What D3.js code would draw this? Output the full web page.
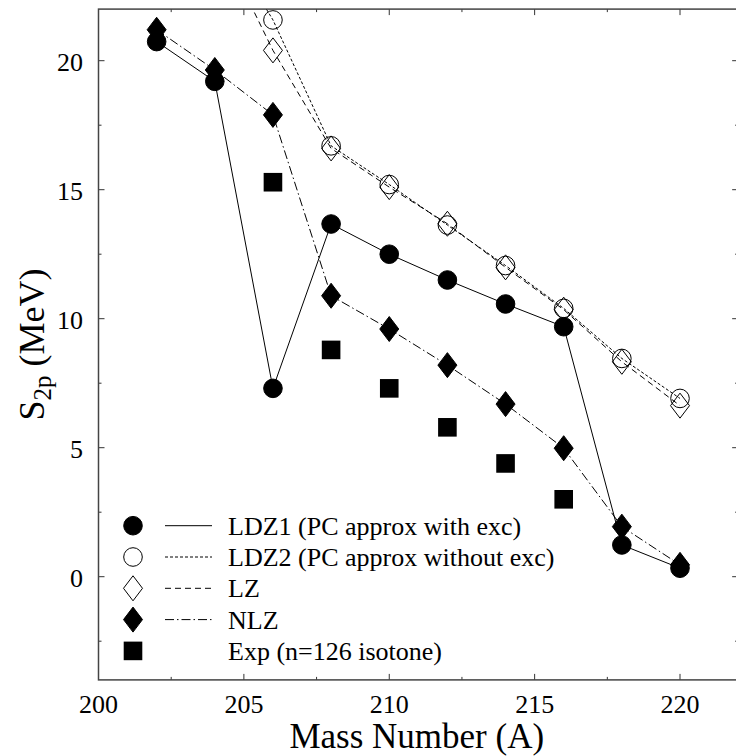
<!DOCTYPE html>
<html>
<head>
<meta charset="utf-8">
<script src="https://cdn.jsdelivr.net/npm/d3@7"></script>
<style>
  body { margin: 0; background: #fff; }
</style>
</head>
<body>
<div id="chart"></div>
<script>
// data (MeV)
var massA = [202, 204, 206, 208, 210, 212, 214, 216, 218, 220];
var ldz1 = [20.74, 19.2, 7.3, 13.67, 12.5, 11.5, 10.57, 9.69, 1.23, 0.33];
var ldz2 = [null, 25.3, 21.58, 16.7, 15.2, 13.63, 12.06, 10.4, 8.46, 6.91];
var lz   = [null, 25.0, 20.4, 16.6, 15.1, 13.68, 11.99, 10.35, 8.33, 6.63];
var nlz  = [21.2, 19.64, 17.9, 10.89, 9.6, 8.2, 6.69, 4.98, 1.94, 0.46];
var expA = [206, 208, 210, 212, 214, 216];
var expV = [15.29, 8.79, 7.3, 5.79, 4.39, 3.0];

var xTicks = [200, 205, 210, 215, 220];
var yTicks = [0, 5, 10, 15, 20];

var svgWidth = 736;
var svgHeight = 756;

var svg = d3.select("#chart")
  .append("svg")
  .attr("width", svgWidth)
  .attr("height", svgHeight)
  .attr("font-family", "'Liberation Serif', 'Times New Roman', Times, 'DejaVu Serif', serif");

var x = d3.scaleLinear().domain([200, 222]).range([98.5, 738.15]);
var y = d3.scaleLinear().domain([-4, 22]).range([679.9, 9.1]);

var x0 = x.range()[0], x1 = x.range()[1];
var y0 = y.range()[0], y1 = y.range()[1];

svg.append("clipPath").attr("id", "clip")
  .append("rect")
  .attr("x", x0).attr("y", y1)
  .attr("width", x1 - x0).attr("height", y0 - y1);

// ticks, inward on all four sides
var minorX = d3.range(200, 222.01, 2.5);
var minorY = d3.range(-2.5, 22.01, 2.5);
var tickG = svg.append("g").attr("stroke", "#333").attr("stroke-width", 1);
minorX.forEach(v => {
  var len = (v % 5 === 0) ? 6 : 3;
  tickG.append("line").attr("x1", x(v)).attr("x2", x(v)).attr("y1", y0).attr("y2", y0 - len);
  tickG.append("line").attr("x1", x(v)).attr("x2", x(v)).attr("y1", y1).attr("y2", y1 + len);
});
minorY.forEach(v => {
  var len = (v % 5 === 0) ? 6 : 3;
  tickG.append("line").attr("y1", y(v)).attr("y2", y(v)).attr("x1", x0).attr("x2", x0 + len);
  tickG.append("line").attr("y1", y(v)).attr("y2", y(v)).attr("x1", x1).attr("x2", x1 - len);
});

// frame
svg.append("rect")
  .attr("x", x0).attr("y", y1)
  .attr("width", x1 - x0).attr("height", y0 - y1)
  .attr("fill", "none").attr("stroke", "#444").attr("stroke-width", 1.5);

// tick labels
svg.append("g").selectAll("text")
  .data(xTicks).enter().append("text")
  .attr("x", d => x(d)).attr("y", 713)
  .attr("text-anchor", "middle")
  .attr("font-size", 26)
  .text(d => d);

svg.append("g").selectAll("text")
  .data(yTicks).enter().append("text")
  .attr("x", 83).attr("y", d => y(d) + 10)
  .attr("text-anchor", "end")
  .attr("font-size", 26)
  .text(d => d);

// axis titles
svg.append("text")
  .attr("x", (x0 + 735) / 2).attr("y", 748)
  .attr("text-anchor", "middle")
  .attr("font-size", 35)
  .text("Mass Number (A)");

var yTitle = svg.append("text")
  .attr("transform", `translate(44, ${(y0 + y1) / 2}) rotate(-90)`)
  .attr("text-anchor", "middle")
  .attr("font-size", 36);
yTitle.append("tspan").text("S");
yTitle.append("tspan").attr("font-size", 25).attr("dy", 7).text("2p");
yTitle.append("tspan").attr("dy", -7).text(" (MeV)");

// series
var series = [
  { name: "LDZ1 (PC approx with exc)", vals: ldz1, dash: null, marker: "circle", fill: "#000" },
  { name: "LDZ2 (PC approx without exc)", vals: ldz2, dash: "3,2", marker: "circle", fill: "none" },
  { name: "LZ", vals: lz, dash: "6,4", marker: "diamond", fill: "none" },
  { name: "NLZ", vals: nlz, dash: "9,3,1.5,3", marker: "diamond", fill: "#000" },
  { name: "Exp (n=126 isotone)", vals: null, dash: null, marker: "square", fill: "#000" }
];

function drawMarker(g, kind, fill, cx, cy) {
  if (kind === "circle") {
    g.append("circle").attr("cx", cx).attr("cy", cy).attr("r", 9.3)
      .attr("fill", fill).attr("stroke", "#000").attr("stroke-width", 1);
  } else if (kind === "diamond") {
    g.append("path")
      .attr("d", `M${cx},${cy - 12.5}L${cx + 9.5},${cy}L${cx},${cy + 12.5}L${cx - 9.5},${cy}Z`)
      .attr("fill", fill).attr("stroke", "#000").attr("stroke-width", 1);
  } else {
    g.append("rect").attr("x", cx - 9.3).attr("y", cy - 9.3).attr("width", 18.6).attr("height", 18.6)
      .attr("fill", fill);
  }
}

var plot = svg.append("g").attr("clip-path", "url(#clip)");
var line = d3.line()
  .defined(d => d.v !== null)
  .x(d => x(d.a))
  .y(d => y(d.v));

series.forEach(s => {
  if (!s.vals) return;
  var pts = massA.map((a, i) => ({ a: a, v: s.vals[i] }));
  plot.append("path")
    .datum(pts)
    .attr("d", line)
    .attr("fill", "none")
    .attr("stroke", "#000")
    .attr("stroke-width", 1)
    .attr("stroke-dasharray", s.dash);
});

series.forEach(s => {
  if (!s.vals) return;
  massA.forEach((a, i) => {
    if (s.vals[i] !== null) drawMarker(plot, s.marker, s.fill, x(a), y(s.vals[i]));
  });
});

expA.forEach((a, i) => drawMarker(plot, "square", "#000", x(a), y(expV[i])));

// legend
var legend = svg.append("g");
series.forEach((s, i) => {
  var ly = 525.7 + i * 31.3;
  drawMarker(legend, s.marker, s.fill, 133, ly);
  if (s.vals) {
    legend.append("line")
      .attr("x1", 165).attr("x2", 212).attr("y1", ly).attr("y2", ly)
      .attr("stroke", "#000").attr("stroke-width", 1)
      .attr("stroke-dasharray", s.dash);
  }
  legend.append("text")
    .attr("x", 228).attr("y", ly + 9)
    .attr("font-size", 26)
    .text(s.name);
});
</script>
</body>
</html>
